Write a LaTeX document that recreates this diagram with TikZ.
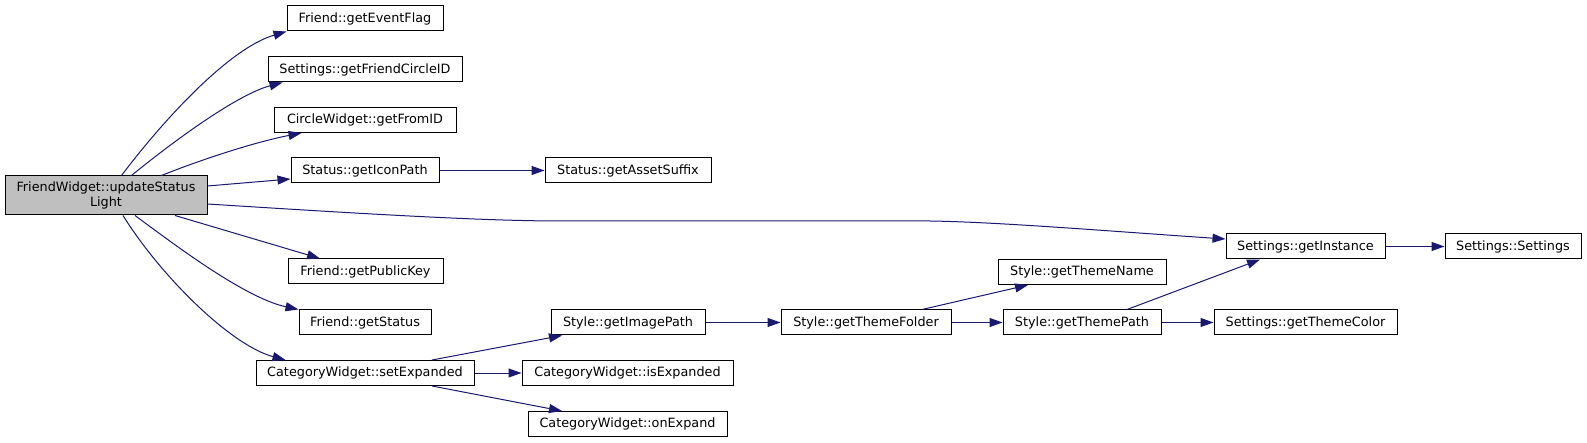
\documentclass[tikz,border=0pt]{standalone}
\usepackage{fontspec}
\setmainfont{DejaVu Sans}
\usetikzlibrary{arrows.meta}
\definecolor{edgeblue}{RGB}{25,25,112}
\definecolor{rootgray}{RGB}{191,191,191}
\begin{document}
\begin{tikzpicture}[x=1pt,y=-1pt,
  box/.style={draw=black, line width=1pt, fill=white, inner sep=0pt,
    minimum height=25pt, font=\fontsize{12.8}{14.5}\selectfont, align=center},
  edge/.style={draw=edgeblue, line width=1pt,
    -{Triangle[length=13pt,width=9pt]}}]
\useasboundingbox (0,0) rectangle (1587,443);
\node[box, fill=rootgray, minimum width=202pt, minimum height=39pt] (fw) at (106,195.5) {FriendWidget::updateStatus\\Light};
\node[box, minimum width=156pt] (gef) at (365,18.5) {Friend::getEventFlag};
\node[box, minimum width=194pt] (gfc) at (365,69.5) {Settings::getFriendCircleID};
\node[box, minimum width=182pt] (gfi) at (365,120) {CircleWidget::getFromID};
\node[box, minimum width=148pt] (gip) at (365,170.5) {Status::getIconPath};
\node[box, minimum width=155pt] (gpk) at (365.5,271.5) {Friend::getPublicKey};
\node[box, minimum width=132pt] (gst) at (365,322.5) {Friend::getStatus};
\node[box, minimum width=218pt] (sex) at (365,373) {CategoryWidget::setExpanded};
\node[box, minimum width=166pt] (gas) at (628,170.5) {Status::getAssetSuffix};
\node[box, minimum width=154pt] (gim) at (628,322.5) {Style::getImagePath};
\node[box, minimum width=211pt] (isx) at (627.5,373) {CategoryWidget::isExpanded};
\node[box, minimum width=199pt] (onx) at (627.5,424) {CategoryWidget::onExpand};
\node[box, minimum width=170pt] (gtf) at (866,322.5) {Style::getThemeFolder};
\node[box, minimum width=168pt] (gtn) at (1082,272) {Style::getThemeName};
\node[box, minimum width=158pt] (gtp) at (1082,322.5) {Style::getThemePath};
\node[box, minimum width=159pt] (gin) at (1305.5,246.5) {Settings::getInstance};
\node[box, minimum width=183pt] (gtc) at (1305.5,322.5) {Settings::getThemeColor};
\node[box, minimum width=136pt] (sst) at (1513,246.5) {Settings::Settings};

\draw[edge] ([xshift=117pt]fw.north west) .. controls (165,118) and (230,48) .. (gef.south west);
\draw[edge] ([xshift=127pt]fw.north west) .. controls (165,148) and (235,95) .. ([xshift=15pt]gfc.south west);
\draw[edge] ([xshift=157pt]fw.north west) .. controls (200,160) and (255,142) .. ([xshift=28pt]gfi.south west);
\draw[edge] ([yshift=9.5pt]fw.east) -- ([yshift=-8.5pt]gip.west);
\draw[edge] ([yshift=-8.5pt]fw.east) .. controls (350,213) and (480,221) .. (560,221) -- (930,221) .. controls (1000,222) and (1120,232) .. ([yshift=7.5pt]gin.west);
\draw[edge] ([xshift=69pt]fw.south) -- ([xshift=-45.5pt]gpk.north);
\draw[edge] ([xshift=29pt]fw.south) .. controls (175,245) and (245,298) .. (gst.north west);
\draw[edge] ([xshift=17pt]fw.south) .. controls (160,275) and (230,345) .. ([xshift=30pt]sex.north west);
\draw[edge] (gip.east) -- (gas.west);
\draw[edge] ([xshift=67pt]sex.north) -- ([xshift=-66pt]gim.south);
\draw[edge] (sex.east) -- (isx.west);
\draw[edge] ([xshift=67pt]sex.south) -- ([xshift=-65.5pt]onx.north);
\draw[edge] (gim.east) -- (gtf.west);
\draw[edge] ([xshift=56pt]gtf.north) -- ([xshift=-54pt]gtn.south);
\draw[edge] (gtf.east) -- (gtp.west);
\draw[edge] ([xshift=45pt]gtp.north) -- ([xshift=-45.5pt]gin.south);
\draw[edge] (gtp.east) -- (gtc.west);
\draw[edge] (gin.east) -- (sst.west);
\end{tikzpicture}
\end{document}
